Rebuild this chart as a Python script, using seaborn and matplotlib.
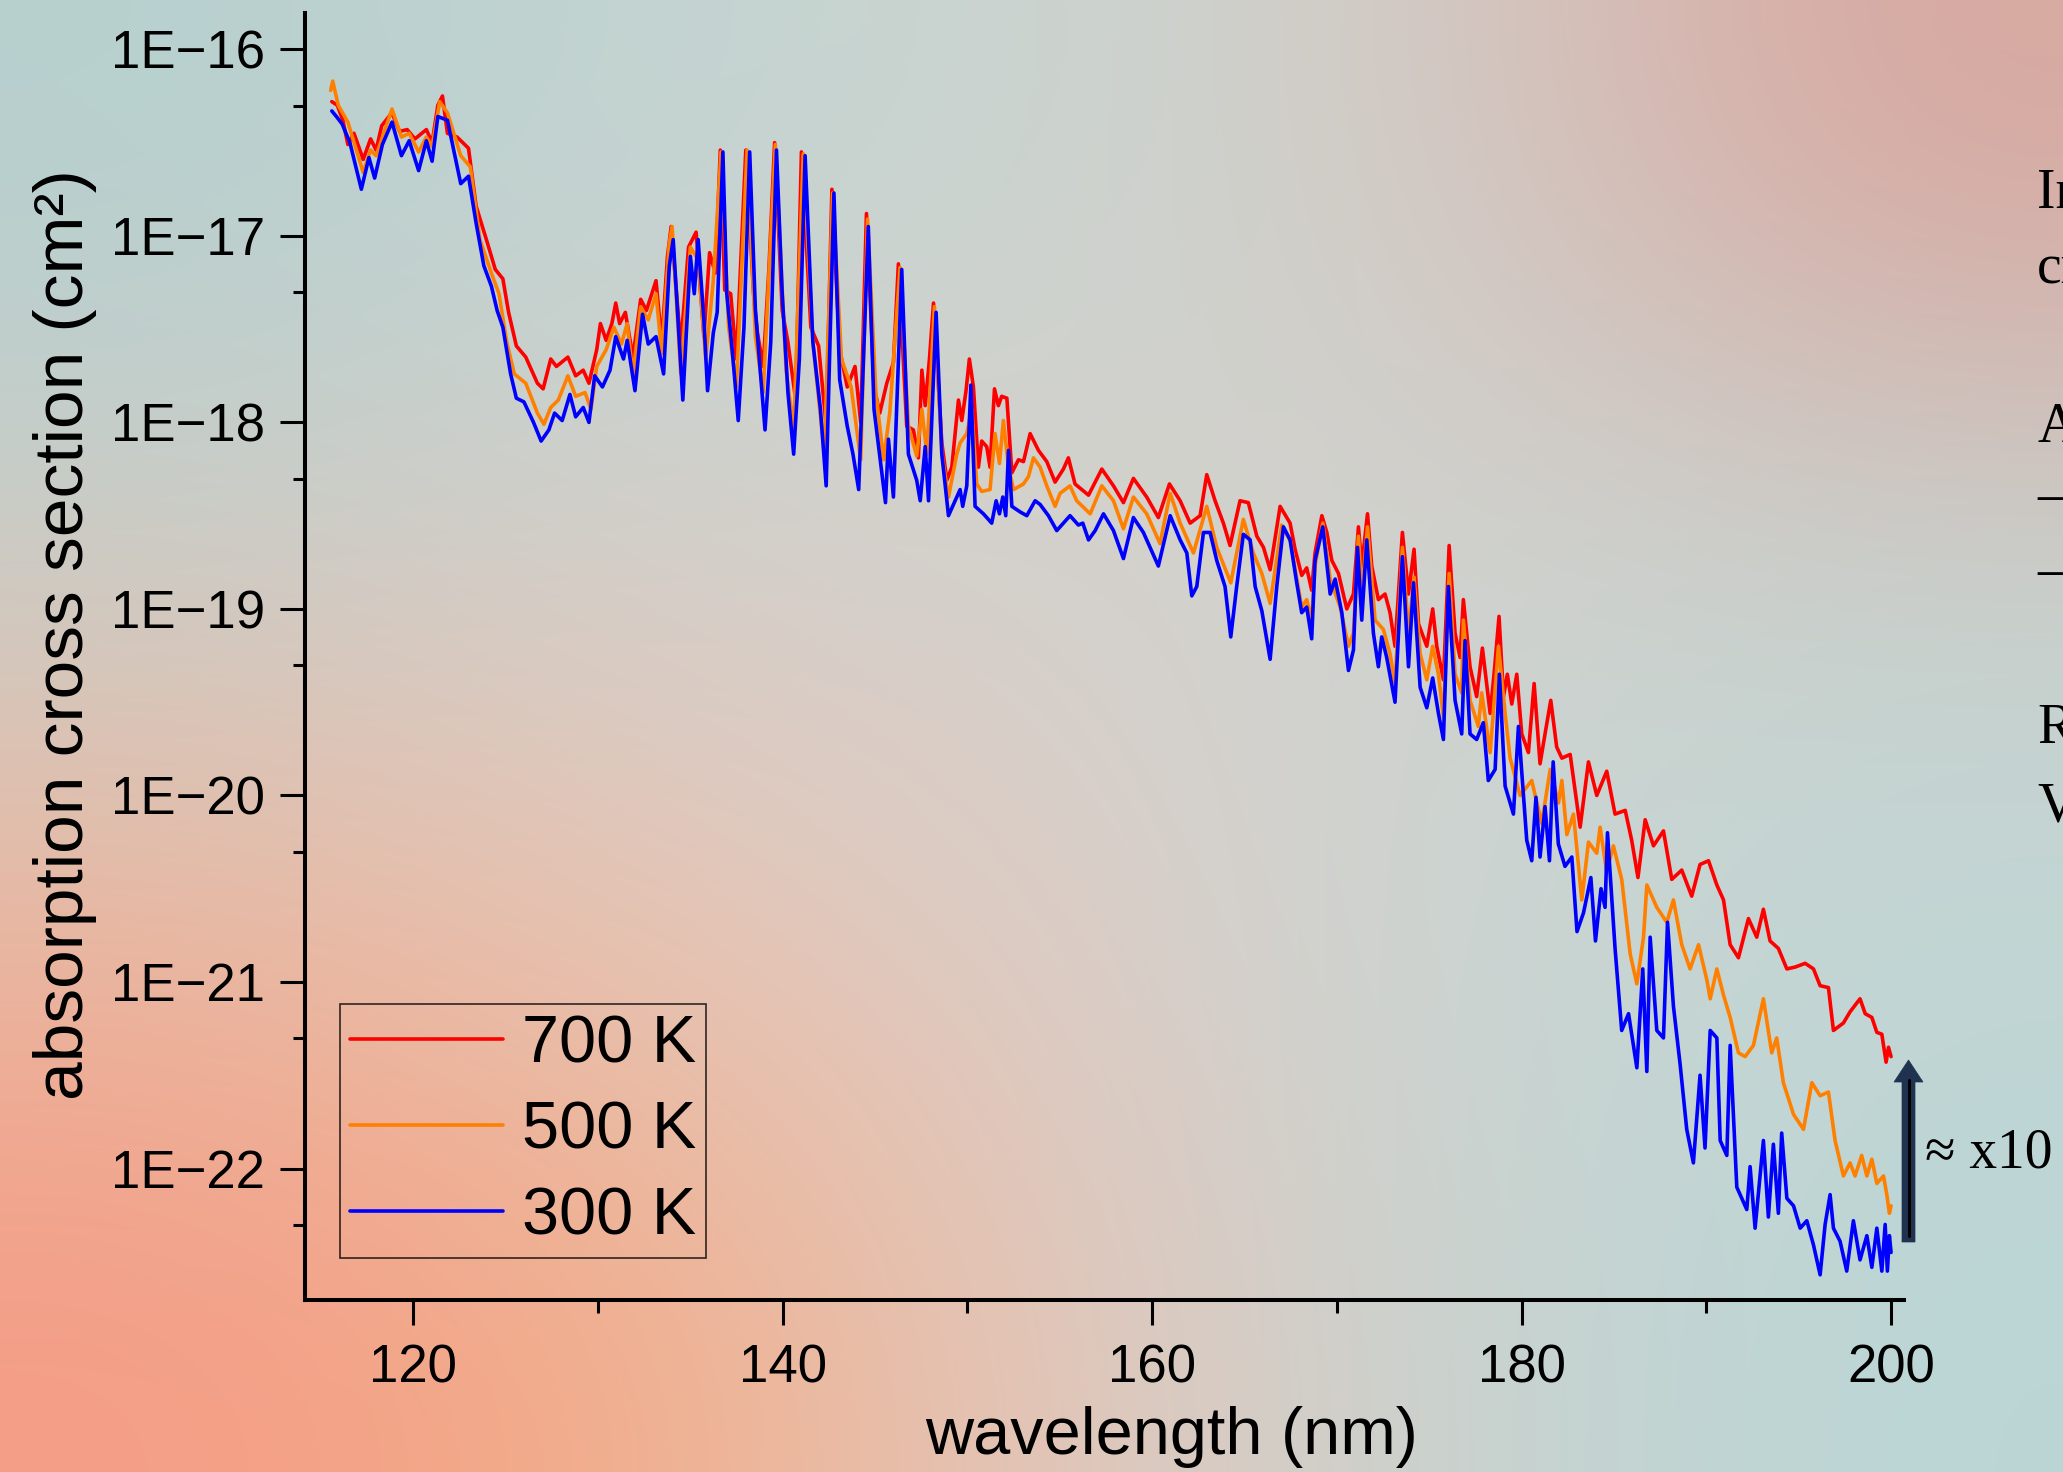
import numpy as np
import pandas as pd
import matplotlib
matplotlib.use("Agg")
import matplotlib.pyplot as plt
import seaborn as sns
from matplotlib.patches import FancyArrow
from matplotlib.lines import Line2D
from matplotlib.transforms import IdentityTransform
from matplotlib.ticker import FixedLocator, NullFormatter

# ---- spectra: wavelength (nm) and log10 of cross section (cm^2) ----
wl_700 = [115.60, 115.90, 116.20, 116.47, 116.80, 117.30, 117.70, 118.00, 118.30, 118.85,
          119.27, 119.68, 120.10, 120.72, 121.03, 121.34, 121.59, 121.86, 122.38, 123.00,
          123.41, 124.03, 124.45, 124.86, 125.17, 125.59, 126.10, 126.73, 127.04, 127.45,
          127.76, 128.38, 128.80, 129.21, 129.52, 129.94, 130.14, 130.45, 130.76, 130.97,
          131.18, 131.49, 131.90, 132.32, 132.63, 133.15, 133.46, 133.77, 133.97, 134.49,
          134.91, 135.32, 135.74, 136.05, 136.36, 136.63, 136.87, 137.19, 137.50, 138.01,
          138.43, 138.64, 138.95, 139.26, 139.57, 139.98, 140.29, 140.71, 141.02, 141.53,
          141.95, 142.36, 142.67, 143.09, 143.50, 143.92, 144.23, 144.54, 144.95, 145.26,
          145.64, 146.00, 146.27, 146.72, 147.08, 147.35, 147.54, 147.72, 147.95, 148.17,
          148.62, 148.89, 149.16, 149.52, 149.70, 149.93, 150.11, 150.33, 150.60, 150.78,
          151.05, 151.23, 151.47, 151.68, 151.86, 152.14, 152.41, 152.77, 153.04, 153.40,
          153.85, 154.30, 154.75, 155.20, 155.47, 155.83, 156.56, 157.28, 157.91, 158.45,
          158.99, 159.71, 160.34, 160.94, 161.52, 162.06, 162.60, 162.96, 163.41, 163.86,
          164.22, 164.76, 165.21, 165.67, 166.03, 166.39, 166.93, 167.47, 167.74, 168.10,
          168.37, 168.64, 168.82, 169.19, 169.46, 169.73, 170.09, 170.54, 170.90, 171.17,
          171.35, 171.66, 171.89, 172.25, 172.61, 172.88, 173.15, 173.55, 173.88, 174.18,
          174.42, 174.87, 175.19, 175.41, 175.77, 176.08, 176.40, 176.67, 176.85, 177.21,
          177.57, 177.88, 178.30, 178.51, 178.78, 179.02, 179.23, 179.47, 179.74, 180.01,
          180.37, 180.68, 181.00, 181.27, 181.58, 181.90, 182.18, 182.63, 183.17, 183.62,
          184.07, 184.61, 185.06, 185.61, 185.96, 186.30, 186.69, 187.14, 187.68, 188.13,
          188.67, 189.21, 189.66, 190.12, 190.57, 190.93, 191.29, 191.74, 192.28, 192.73,
          193.09, 193.45, 193.90, 194.36, 194.81, 195.35, 195.80, 196.16, 196.61, 196.88,
          197.42, 197.78, 198.32, 198.60, 198.96, 199.23, 199.50, 199.73, 199.86, 200.00]
log_700 = [-16.28, -16.30, -16.38, -16.51, -16.45, -16.59, -16.48, -16.54, -16.41, -16.34,
           -16.44, -16.43, -16.48, -16.43, -16.50, -16.30, -16.25, -16.45, -16.47, -16.53,
           -16.84, -17.04, -17.18, -17.23, -17.41, -17.59, -17.65, -17.79, -17.82, -17.66,
           -17.70, -17.65, -17.75, -17.72, -17.79, -17.61, -17.47, -17.56, -17.47, -17.36,
           -17.47, -17.41, -17.65, -17.34, -17.40, -17.24, -17.57, -17.11, -16.95, -17.59,
           -17.06, -16.98, -17.54, -17.09, -17.20, -16.54, -17.29, -17.31, -17.66, -16.54,
           -17.31, -17.52, -17.70, -17.18, -16.50, -17.40, -17.57, -17.88, -16.55, -17.49,
           -17.59, -18.02, -16.75, -17.61, -17.81, -17.70, -18.00, -16.88, -17.81, -17.95,
           -17.79, -17.68, -17.15, -18.02, -18.04, -18.19, -17.72, -17.91, -17.66, -17.36,
           -18.11, -18.31, -18.24, -17.88, -17.99, -17.83, -17.66, -17.81, -18.24, -18.10,
           -18.13, -18.24, -17.82, -17.91, -17.86, -17.87, -18.27, -18.20, -18.21, -18.06,
           -18.15, -18.21, -18.32, -18.25, -18.19, -18.33, -18.39, -18.25, -18.34, -18.43,
           -18.30, -18.40, -18.51, -18.33, -18.42, -18.54, -18.50, -18.28, -18.42, -18.54,
           -18.66, -18.42, -18.43, -18.61, -18.67, -18.79, -18.45, -18.54, -18.68, -18.82,
           -18.78, -18.90, -18.70, -18.50, -18.59, -18.74, -18.81, -19.00, -18.92, -18.56,
           -18.77, -18.49, -18.77, -18.95, -18.92, -19.02, -19.20, -18.59, -18.92, -18.68,
           -19.08, -19.20, -19.00, -19.20, -19.38, -18.66, -19.13, -19.26, -18.95, -19.31,
           -19.47, -19.21, -19.56, -19.35, -19.04, -19.47, -19.35, -19.51, -19.35, -19.67,
           -19.77, -19.40, -19.83, -19.67, -19.49, -19.74, -19.80, -19.78, -20.17, -19.82,
           -20.00, -19.87, -20.10, -20.08, -20.24, -20.44, -20.13, -20.27, -20.19, -20.45,
           -20.40, -20.54, -20.37, -20.35, -20.48, -20.56, -20.80, -20.87, -20.66, -20.76,
           -20.61, -20.78, -20.82, -20.93, -20.92, -20.90, -20.93, -21.02, -21.03, -21.26,
           -21.22, -21.16, -21.09, -21.17, -21.19, -21.27, -21.28, -21.43, -21.35, -21.40]

wl_500 = [115.54, 115.65, 115.95, 116.47, 117.30, 117.70, 118.00, 118.86, 119.37, 119.79,
          120.30, 120.72, 121.03, 121.44, 121.86, 122.58, 123.10, 123.62, 124.24, 124.65,
          125.07, 125.48, 126.10, 126.73, 127.08, 127.45, 127.86, 128.38, 128.80, 129.31,
          129.63, 129.94, 130.45, 130.87, 131.28, 131.59, 131.90, 132.32, 132.73, 133.15,
          133.46, 133.87, 134.02, 134.49, 135.01, 135.43, 135.84, 136.25, 136.67, 137.08,
          137.50, 138.08, 138.53, 138.95, 139.61, 140.19, 140.60, 141.12, 141.64, 142.26,
          142.71, 143.19, 143.71, 144.23, 144.60, 145.05, 145.47, 145.80, 146.36, 146.81,
          147.26, 147.54, 147.81, 148.22, 148.62, 148.98, 149.43, 149.61, 149.97, 150.24,
          150.51, 150.78, 151.23, 151.50, 151.74, 151.95, 152.23, 152.50, 153.04, 153.31,
          153.58, 153.94, 154.30, 154.75, 155.02, 155.56, 155.92, 156.65, 157.28, 157.91,
          158.45, 158.99, 159.71, 160.43, 160.98, 161.52, 162.24, 162.96, 163.50, 164.26,
          164.94, 165.48, 165.94, 166.39, 167.02, 167.50, 167.80, 168.10, 168.37, 168.64,
          168.82, 169.24, 169.64, 170.18, 170.63, 170.90, 171.17, 171.35, 171.66, 172.07,
          172.52, 172.88, 173.15, 173.55, 173.88, 174.18, 174.51, 174.87, 175.19, 175.50,
          175.77, 176.08, 176.40, 176.76, 176.85, 177.21, 177.66, 177.84, 178.30, 178.75,
          179.11, 179.38, 179.92, 180.55, 181.09, 181.55, 182.00, 182.18, 182.45, 182.81,
          183.26, 183.62, 184.07, 184.25, 184.61, 184.97, 185.42, 185.88, 186.24, 186.60,
          186.78, 187.32, 187.86, 188.22, 188.67, 189.12, 189.58, 190.03, 190.21, 190.57,
          190.93, 191.29, 191.74, 192.10, 192.55, 193.09, 193.54, 193.81, 194.17, 194.72,
          195.26, 195.71, 196.16, 196.61, 196.97, 197.42, 197.78, 198.05, 198.41, 198.69,
          198.96, 199.23, 199.59, 199.77, 199.91, 200.00]
log_500 = [-16.22, -16.17, -16.30, -16.39, -16.66, -16.54, -16.57, -16.32, -16.47, -16.45,
           -16.55, -16.47, -16.52, -16.28, -16.34, -16.57, -16.63, -17.02, -17.20, -17.31,
           -17.57, -17.74, -17.79, -17.95, -18.01, -17.92, -17.88, -17.75, -17.86, -17.84,
           -17.93, -17.70, -17.61, -17.49, -17.58, -17.47, -17.75, -17.38, -17.45, -17.31,
           -17.63, -17.04, -16.95, -17.74, -17.06, -17.13, -17.66, -17.24, -16.55, -17.49,
           -17.81, -16.54, -17.54, -17.84, -16.51, -17.72, -18.04, -16.56, -17.57, -18.17,
           -16.77, -17.66, -17.81, -18.20, -16.91, -17.84, -18.20, -17.95, -17.17, -18.02,
           -18.18, -17.93, -18.17, -17.38, -18.17, -18.40, -18.17, -18.11, -18.06, -17.93,
           -18.33, -18.37, -18.36, -18.06, -18.22, -17.99, -18.24, -18.36, -18.33, -18.29,
           -18.19, -18.24, -18.34, -18.45, -18.38, -18.34, -18.42, -18.49, -18.34, -18.42,
           -18.57, -18.40, -18.49, -18.65, -18.38, -18.54, -18.70, -18.45, -18.67, -18.86,
           -18.52, -18.70, -18.81, -18.97, -18.55, -18.64, -18.82, -18.99, -18.95, -19.06,
           -18.77, -18.54, -18.84, -18.99, -19.20, -19.13, -18.61, -18.92, -18.56, -19.06,
           -19.11, -19.24, -19.40, -18.67, -19.13, -18.83, -19.24, -19.38, -19.20, -19.35,
           -19.58, -18.81, -19.35, -19.45, -19.06, -19.49, -19.63, -19.45, -19.77, -19.20,
           -19.56, -19.80, -20.00, -19.92, -20.15, -19.86, -20.04, -19.92, -20.21, -20.10,
           -20.56, -20.25, -20.31, -20.17, -20.41, -20.27, -20.45, -20.85, -21.01, -20.76,
           -20.48, -20.60, -20.68, -20.56, -20.80, -20.93, -20.80, -20.99, -21.09, -20.93,
           -21.07, -21.19, -21.38, -21.40, -21.34, -21.09, -21.38, -21.30, -21.54, -21.71,
           -21.79, -21.54, -21.61, -21.59, -21.85, -22.04, -21.97, -22.04, -21.93, -22.04,
           -21.95, -22.08, -22.04, -22.14, -22.24, -22.20]

wl_300 = [115.60, 115.85, 116.16, 116.58, 117.20, 117.61, 117.92, 118.34, 118.86, 119.37,
          119.79, 120.30, 120.72, 121.03, 121.34, 121.86, 122.58, 123.00, 123.41, 123.83,
          124.24, 124.55, 124.86, 125.28, 125.59, 126.00, 126.52, 126.93, 127.35, 127.66,
          128.07, 128.49, 128.80, 129.21, 129.52, 129.83, 130.25, 130.66, 130.97, 131.39,
          131.59, 132.01, 132.42, 132.73, 133.15, 133.56, 133.87, 134.08, 134.60, 135.01,
          135.22, 135.43, 135.74, 135.94, 136.25, 136.46, 136.77, 136.98, 137.29, 137.60,
          137.91, 138.22, 138.53, 139.05, 139.36, 139.67, 139.98, 140.29, 140.60, 140.91,
          141.22, 141.64, 142.05, 142.36, 142.78, 143.09, 143.50, 143.81, 144.12, 144.64,
          144.95, 145.57, 145.73, 146.00, 146.45, 146.81, 147.26, 147.45, 147.72, 147.90,
          148.31, 148.62, 148.98, 149.61, 149.75, 149.97, 150.19, 150.42, 150.87, 151.32,
          151.56, 151.74, 151.92, 152.08, 152.23, 152.41, 152.86, 153.22, 153.67, 153.94,
          154.39, 154.84, 155.56, 156.01, 156.25, 156.56, 156.92, 157.37, 157.91, 158.45,
          158.99, 159.53, 159.89, 160.34, 160.98, 161.52, 161.88, 162.15, 162.42, 162.78,
          163.14, 163.50, 163.95, 164.26, 164.58, 164.94, 165.31, 165.58, 165.94, 166.39,
          166.75, 167.11, 167.47, 167.83, 168.10, 168.37, 168.64, 168.82, 169.24, 169.64,
          169.91, 170.27, 170.63, 170.90, 171.12, 171.35, 171.62, 171.98, 172.25, 172.43,
          172.70, 173.15, 173.55, 173.88, 174.15, 174.51, 174.87, 175.19, 175.50, 175.77,
          176.04, 176.40, 176.76, 176.94, 177.21, 177.57, 177.93, 178.20, 178.57, 178.80,
          179.11, 179.56, 179.83, 180.28, 180.55, 180.78, 181.00, 181.27, 181.51, 181.71,
          181.99, 182.35, 182.72, 183.00, 183.35, 183.75, 184.00, 184.30, 184.52, 184.65,
          185.06, 185.42, 185.79, 186.24, 186.56, 186.78, 186.96, 187.32, 187.68, 187.90,
          188.22, 188.58, 188.94, 189.30, 189.66, 189.93, 190.21, 190.57, 190.75, 191.11,
          191.29, 191.65, 191.92, 192.19, 192.37, 192.64, 193.09, 193.36, 193.63, 193.90,
          194.08, 194.36, 194.72, 195.08, 195.44, 195.80, 196.16, 196.43, 196.70, 196.88,
          197.24, 197.60, 197.96, 198.32, 198.69, 198.96, 199.23, 199.50, 199.68, 199.80,
          199.91, 200.00]
log_300 = [-16.33, -16.36, -16.40, -16.50, -16.75, -16.58, -16.69, -16.51, -16.39, -16.57,
           -16.49, -16.65, -16.49, -16.60, -16.36, -16.38, -16.72, -16.68, -16.93, -17.16,
           -17.27, -17.40, -17.49, -17.74, -17.87, -17.89, -18.00, -18.10, -18.04, -17.95,
           -17.99, -17.85, -17.97, -17.92, -18.00, -17.75, -17.81, -17.72, -17.54, -17.66,
           -17.56, -17.83, -17.42, -17.58, -17.54, -17.74, -17.16, -17.02, -17.88, -17.11,
           -17.31, -17.02, -17.45, -17.83, -17.52, -17.41, -16.55, -17.31, -17.63, -17.99,
           -17.49, -16.55, -17.40, -18.04, -17.57, -16.54, -17.31, -17.84, -18.17, -17.66,
           -16.57, -17.57, -17.93, -18.34, -16.77, -17.77, -18.02, -18.17, -18.36, -16.95,
           -17.93, -18.43, -18.09, -18.40, -17.18, -18.17, -18.31, -18.42, -18.13, -18.42,
           -17.41, -18.17, -18.50, -18.36, -18.45, -18.34, -17.80, -18.45, -18.49, -18.54,
           -18.42, -18.49, -18.40, -18.50, -18.15, -18.45, -18.48, -18.50, -18.42, -18.44,
           -18.50, -18.58, -18.50, -18.55, -18.54, -18.63, -18.58, -18.49, -18.58, -18.73,
           -18.51, -18.59, -18.67, -18.77, -18.50, -18.63, -18.70, -18.93, -18.88, -18.59,
           -18.59, -18.74, -18.88, -19.15, -18.88, -18.60, -18.63, -18.88, -19.01, -19.27,
           -18.88, -18.56, -18.63, -18.86, -19.02, -18.99, -19.16, -18.74, -18.56, -18.92,
           -18.84, -19.02, -19.33, -19.22, -18.67, -19.06, -18.63, -19.13, -19.31, -19.15,
           -19.26, -19.50, -18.72, -19.31, -18.86, -19.42, -19.53, -19.37, -19.56, -19.70,
           -18.88, -19.49, -19.67, -19.17, -19.67, -19.70, -19.61, -19.92, -19.86, -19.35,
           -19.95, -20.10, -19.63, -20.24, -20.35, -20.01, -20.33, -20.06, -20.35, -19.82,
           -20.26, -20.38, -20.33, -20.73, -20.63, -20.44, -20.78, -20.50, -20.60, -20.20,
           -20.82, -21.26, -21.17, -21.46, -20.93, -21.48, -20.76, -21.26, -21.30, -20.68,
           -21.13, -21.44, -21.79, -21.97, -21.50, -21.89, -21.26, -21.30, -21.85, -21.93,
           -21.34, -22.10, -22.16, -22.22, -21.99, -22.32, -21.85, -22.26, -21.87, -22.24,
           -21.81, -22.16, -22.20, -22.32, -22.28, -22.41, -22.57, -22.30, -22.14, -22.32,
           -22.39, -22.55, -22.28, -22.49, -22.36, -22.53, -22.32, -22.55, -22.30, -22.55,
           -22.36, -22.45]

series_labels = ["700 K", "500 K", "300 K"]
series_colors = ["#ff0000", "#ff8000", "#0000ff"]

x_ticks = [120, 140, 160, 180, 200]
x_minor = [130, 150, 170, 190]
y_exponents = [-16, -17, -18, -19, -20, -21, -22]

frames = []
for lab, wl, lg in zip(series_labels, [wl_700, wl_500, wl_300], [log_700, log_500, log_300]):
    frames.append(pd.DataFrame({"wavelength": wl,
                                "sigma": 10.0 ** np.asarray(lg),
                                "T": lab}))
df = pd.concat(frames, ignore_index=True)

# ---- figure ----
sns.set_style("ticks")
plt.rcParams["font.family"] = ["Liberation Sans", "DejaVu Sans"]
for key in ["text.color", "axes.labelcolor", "xtick.color", "ytick.color", "axes.edgecolor"]:
    plt.rcParams[key] = "black"

W, H = 2063, 1472
fig = plt.figure(figsize=(W / 100, H / 100), dpi=100)

# soft multi-colour backdrop
bg_colors = [
    ["#b6d0cf", "#c2d4d2", "#cbd5d1", "#d3cbc5", "#d8a79f"],
    ["#cbcdc8", "#d4cfca", "#d5d1cc", "#d0d3cf", "#c9d1cd"],
    ["#eab9a1", "#e8c5b5", "#dccdc7", "#ccd5d3", "#c1d6d5"],
    ["#f59c86", "#f3ad87", "#e4c6ba", "#c9d3d0", "#bbd6d6"],
]
rgb = np.array([[matplotlib.colors.to_rgb(c) for c in row] for row in bg_colors])
bg_ax = fig.add_axes([0, 0, 1, 1], zorder=-10)
bg_ax.imshow(rgb, aspect="auto", interpolation="bicubic", extent=[0, 1, 0, 1])
bg_ax.set_axis_off()

ax = fig.add_axes([305 / W, 1 - 1300 / H, (1904 - 305) / W, (1300 - 13) / H])
ax.set_facecolor("none")

sns.lineplot(data=df, x="wavelength", y="sigma", hue="T", hue_order=series_labels,
             palette=series_colors, estimator=None, sort=False, linewidth=2.6, ax=ax)
ax.set_yscale("log")
ax.set_xlim(114.15, 200.7)
ax.set_ylim(10 ** -22.705, 10 ** -15.805)

for s in ["top", "right"]:
    ax.spines[s].set_visible(False)
for s in ["left", "bottom"]:
    ax.spines[s].set_linewidth(2.9)
    ax.spines[s].set_color("black")

ax.xaxis.set_major_locator(FixedLocator(x_ticks))
ax.xaxis.set_minor_locator(FixedLocator(x_minor))
ax.set_xticklabels([str(t) for t in x_ticks])
ax.yaxis.set_major_locator(FixedLocator([10.0 ** e for e in y_exponents]))
ax.yaxis.set_minor_locator(FixedLocator([5 * 10.0 ** (e - 1) for e in y_exponents]))
ax.yaxis.set_minor_formatter(NullFormatter())
ax.set_yticklabels([f"1E\u2212{-e}" for e in y_exponents])

ax.tick_params(which="major", length=18, width=2.2, labelsize=38, pad=11, color="black")
ax.tick_params(which="minor", length=9, width=2.2, color="black")
ax.tick_params(axis="x", which="major", pad=13)

ax.set_xlabel("wavelength (nm)", fontsize=48, labelpad=9, x=0.542)
ax.set_ylabel("absorption cross section (cm\u00b2)", fontsize=50, labelpad=10, y=0.517)

leg = ax.legend(loc="lower left", bbox_to_anchor=(0.0219, 0.0326), borderaxespad=0,
                fontsize=48, frameon=True, fancybox=False, handlelength=2.3,
                handletextpad=0.28, borderpad=0.15, labelspacing=0.36, title=None)
leg.get_frame().set_edgecolor("black")
leg.get_frame().set_linewidth(1.2)
leg.get_frame().set_facecolor("none")
for h in leg.get_lines():
    h.set_linewidth(2.6)

# factor arrow and note at the right edge
arrow = FancyArrow(1908.5, H - 1242, 0, 182, width=13, head_width=29, head_length=22,
                   length_includes_head=True, transform=IdentityTransform(),
                   facecolor="#1f3350", edgecolor="#1f3350", linewidth=0.5)
fig.add_artist(arrow)
fig.add_artist(Line2D([1908.5, 1908.5], [H - 1236, H - 1080], transform=IdentityTransform(),
                      color="black", linewidth=2.2))
fig.text(1925 / W, 1 - 1153 / H, "\u2248 x10", fontsize=40, family="Liberation Serif",
         va="center", ha="left")

side_lines = [("In", 208), ("cr", 284), ("At", 441), ("\u2014", 512), ("\u2014", 587),
              ("Ra", 743), ("Va", 822)]
for txt, yb in side_lines:
    fig.text(2037 / W, 1 - yb / H, txt, fontsize=40, family="Liberation Serif",
             va="baseline", ha="left")

fig.savefig("out.png", dpi=100)
